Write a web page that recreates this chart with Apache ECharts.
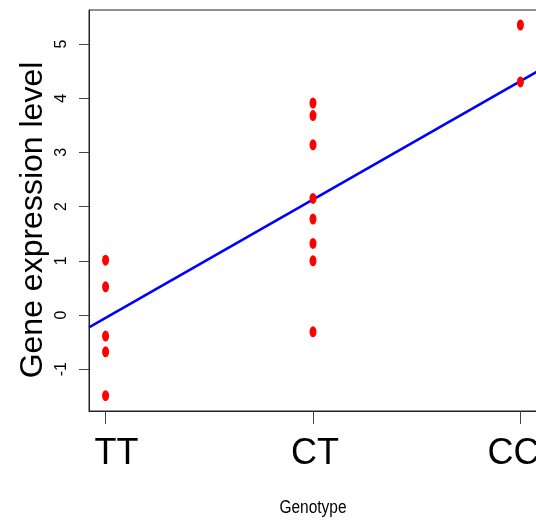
<!DOCTYPE html>
<html>
<head>
<meta charset="utf-8">
<script src="https://cdn.jsdelivr.net/npm/echarts@6/dist/echarts.min.js"></script>
<style>html,body{margin:0;padding:0;background:#fff;}#c{width:536px;height:525px;}</style>
</head>
<body>
<div id="c"></div>
<script>
const categories = ['TT', 'CT', 'CC'];
const ttValues = [1.01, 0.52, -0.39, -0.68, -1.49];
const ctValues = [3.91, 3.68, 3.14, 2.15, 1.77, 1.32, 1.00, -0.31];
const ccValues = [5.35, 4.30];
const yTicks = [-1, 0, 1, 2, 3, 4, 5];
const fitX = [0.92, 3.08];
const fitY = [-0.23, 4.49];

const groups = [ttValues, ctValues, ccValues];
const points = [];
groups.forEach((vals, i) => vals.forEach(v => points.push([i + 1, v])));
const fitData = fitX.map((x, i) => [x, fitY[i]]);
const richKeys = ['tt', 'ct', 'cc'];

const chart = echarts.init(document.getElementById('c'), null, {renderer: 'canvas'});
chart.setOption({
  animation: false,
  backgroundColor: '#ffffff',
  grid: {left: 89, top: 10, width: 448, height: 401, containLabel: false, outerBoundsMode: 'none',
         show: true, borderColor: '#222', borderWidth: 1, backgroundColor: 'transparent'},
  xAxis: {
    type: 'value', min: 0.92, max: 3.08,
    splitLine: {show: false},
    axisLine: {show: true, onZero: false, lineStyle: {color: '#222', width: 1}},
    axisTick: {show: true, length: 13, lineStyle: {color: '#444', width: 1}, customValues: [1, 2, 3]},
    axisLabel: {
      customValues: [1, 2, 3], margin: 25, hideOverlap: false,
      fontFamily: 'Liberation Sans, Arial, sans-serif', fontSize: 36, color: '#000', lineHeight: 36,
      formatter: v => '{' + richKeys[v - 1] + '|' + categories[v - 1] + '}',
      rich: {
        tt: {fontSize: 36, fontFamily: 'Liberation Sans', color: '#000', padding: [0, 0, 0, 22]},
        ct: {fontSize: 36, fontFamily: 'Liberation Sans', color: '#000', padding: [0, 0, 0, 4]},
        cc: {fontSize: 36, fontFamily: 'Liberation Sans', color: '#000', padding: [0, 14, 0, 0]}
      }
    }
  },
  yAxis: {
    type: 'value', min: -1.772, max: 5.627,
    splitLine: {show: false},
    axisLine: {show: true, onZero: false, lineStyle: {color: '#222', width: 1}},
    axisTick: {show: true, length: 10, lineStyle: {color: '#444', width: 1}, customValues: yTicks},
    axisLabel: {customValues: yTicks, rotate: 90, margin: 19, fontFamily: 'Liberation Sans, Arial, sans-serif', fontSize: 16, color: '#000'}
  },
  graphic: [{
    type: 'text', x: 33, y: 220, rotation: Math.PI / 2,
    style: {text: 'Gene expression level', fontFamily: 'Liberation Sans, Arial, sans-serif', fontSize: 32, fill: '#000', align: 'center', verticalAlign: 'middle'}
  }, {
    type: 'text', x: 313, y: 508, scaleX: 0.86,
    style: {text: 'Genotype', fontFamily: 'Liberation Sans, Arial, sans-serif', fontSize: 18, fill: '#000', align: 'center', verticalAlign: 'middle'}
  }],
  series: [
    {type: 'line', data: fitData, showSymbol: false, symbol: 'none', lineStyle: {color: '#0000ff', width: 2.5}, z: 2},
    {type: 'scatter', data: points, symbol: 'circle', symbolSize: [7, 11], itemStyle: {color: '#ff0000', opacity: 1}, z: 3}
  ]
});
</script>
</body>
</html>
